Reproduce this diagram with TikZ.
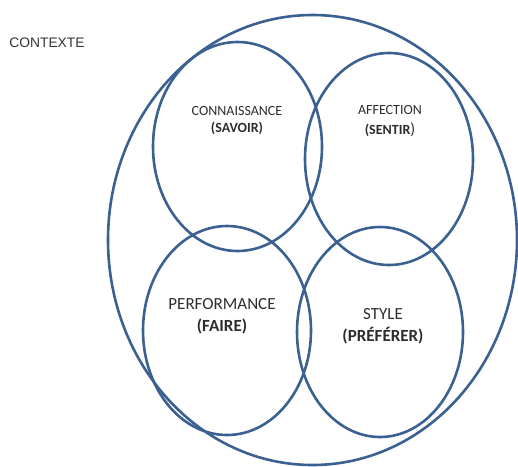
\documentclass[tikz,border=0pt]{standalone}
\usepackage{fontspec}
\setmainfont{Carlito}
\newfontfamily\arialfont{Liberation Sans}
\usetikzlibrary{shapes.geometric}
\definecolor{bordblue}{RGB}{58,97,145}
\definecolor{txtgrey}{RGB}{45,45,45}
\tikzset{
	zone/.style={ellipse, draw=bordblue, line width=2.6pt, inner sep=0pt},
	lbl/.style={align=center, text=txtgrey, inner sep=0pt}
}
\begin{document}
\begin{tikzpicture}[x=1pt, y=-1pt]
		\useasboundingbox (0, 0) rectangle (518, 466);
		\node[zone, minimum width=409pt, minimum height=450pt] (contexte) at (312.5, 240) {};
		\node[zone, minimum width=169pt, minimum height=209pt] (savoir) at (237.5, 146.5) {};
		\node[zone, minimum width=168pt, minimum height=212pt] (sentir) at (389, 159) {};
		\node[zone, minimum width=168pt, minimum height=209pt] (faire) at (227, 330.5) {};
		\node[zone, minimum width=166pt, minimum height=210pt] (preferer) at (380, 332) {};
		
		\node[lbl, text=black!80, font=\arialfont\fontsize{13.8}{16}\selectfont] (ctx) at (47, 43) {CONTEXTE};
		\node[lbl, font=\fontsize{14}{17}\selectfont] (tsavoir) at (237, 120.5) {CONNAISSANCE\\\textbf{(SAVOIR)}};
		\node[lbl, font=\fontsize{14}{20}\selectfont] (tsentir) at (390, 121.5) {AFFECTION\\\textbf{(SENTIR}\fontsize{16}{20}\selectfont)};
		\node[lbl, font=\fontsize{17}{22}\selectfont] (tfaire) at (222, 316) {PERFORMANCE\\\textbf{(FAIRE)}};
		\node[lbl, font=\fontsize{17}{22}\selectfont] (tpreferer) at (383, 326) {STYLE\\\textbf{(PRÉFÉRER)}};
	\end{tikzpicture}
\end{document}
